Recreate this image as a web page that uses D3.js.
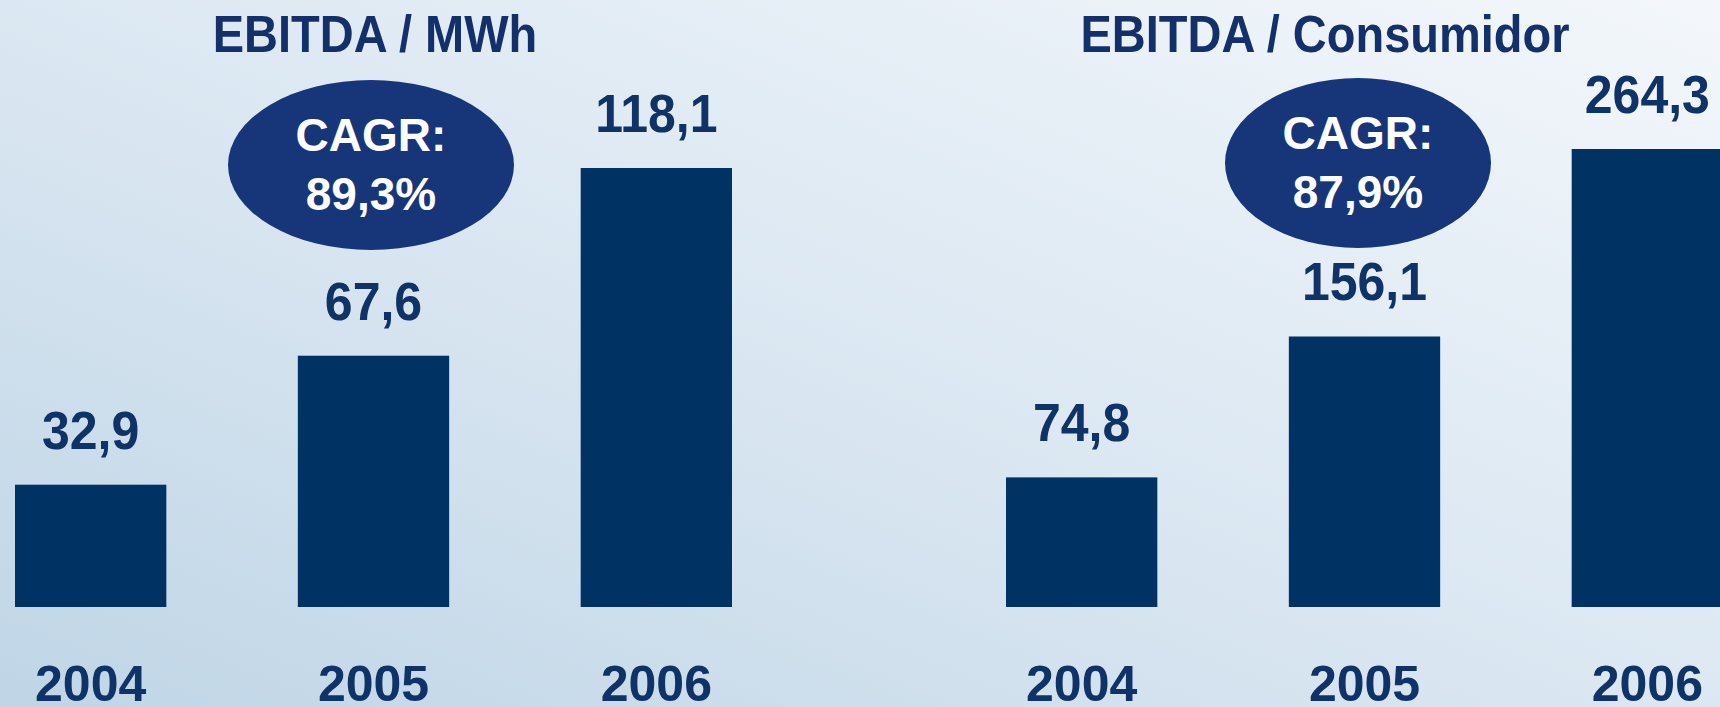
<!DOCTYPE html>
<html>
<head>
<meta charset="utf-8">
<script src="https://cdn.jsdelivr.net/npm/d3@7"></script>
<style>
  html, body { margin: 0; padding: 0; overflow: hidden; }
  svg { display: block; }
  text { font-family: "Liberation Sans", Arial, sans-serif; font-weight: bold; }
</style>
</head>
<body>
<svg id="chart"></svg>
<script>
// data
const years = ["2004", "2005", "2006"];
const ebitdaMwh = [32.9, 67.6, 118.1];
const ebitdaConsumidor = [74.8, 156.1, 264.3];
const titles = ["EBITDA / MWh", "EBITDA / Consumidor"];
const cagrLabels = ["89,3%", "87,9%"];

const width = 1720;
const height = 707;
const barColor = "#003264";
const textColor = "#0f3366";
const ellipseColor = "#173679";

const svg = d3.select("#chart").attr("width", width).attr("height", height);

const defs = svg.append("defs");
const grad = defs.append("linearGradient")
    .attr("id", "bg")
    .attr("x1", "0").attr("y1", "1")
    .attr("x2", "1").attr("y2", "0");
grad.append("stop").attr("offset", "0%").attr("stop-color", "#bfd5e6");
grad.append("stop").attr("offset", "45%").attr("stop-color", "#d9e6f1");
grad.append("stop").attr("offset", "100%").attr("stop-color", "#f3f7fb");

svg.append("rect").attr("width", width).attr("height", height).attr("fill", "url(#bg)");

const fmt = v => d3.format(".1f")(v).replace(".", ",");

// text stretched a bit vertically, like the slide
function tall(sel, x, y, k) {
    return sel.attr("transform", "translate(" + x + "," + y + ") scale(1," + k + ")");
}

const panels = [
    { values: ebitdaMwh, xRange: [15, 732], yTop: 168, title: titles[0], titleX: 375, cagr: cagrLabels[0], ell: { cx: 371, cy: 165, rx: 143, ry: 85 } },
    { values: ebitdaConsumidor, xRange: [1006, 1723], yTop: 149, title: titles[1], titleX: 1325, cagr: cagrLabels[1], ell: { cx: 1358, cy: 163, rx: 133, ry: 85 } }
];

const baseY = 607;

panels.forEach(function (p) {
    const x = d3.scaleBand().domain(years).range(p.xRange).paddingInner(0.465).paddingOuter(0);
    const y = d3.scaleLinear().domain([0, d3.max(p.values)]).range([baseY, p.yTop]);
    const data = years.map((yr, i) => ({ year: yr, value: p.values[i] }));

    const g = svg.append("g");

    g.append("text")
        .call(tall, p.titleX, 52, 1.1)
        .attr("text-anchor", "middle")
        .attr("font-size", 47)
        .attr("fill", "#13306a")
        .text(p.title);

    g.selectAll("rect.bar")
        .data(data)
        .enter()
        .append("rect")
        .attr("class", "bar")
        .attr("x", d => x(d.year))
        .attr("y", d => y(d.value))
        .attr("width", x.bandwidth())
        .attr("height", d => baseY - y(d.value))
        .attr("fill", barColor);

    g.selectAll("text.val")
        .data(data)
        .enter()
        .append("text")
        .attr("class", "val")
        .each(function (d) {
            d3.select(this).call(tall, x(d.year) + x.bandwidth() / 2, y(d.value) - 36, 1.06);
        })
        .attr("text-anchor", "middle")
        .attr("font-size", 50)
        .attr("fill", textColor)
        .text(d => fmt(d.value));

    g.selectAll("text.year")
        .data(data)
        .enter()
        .append("text")
        .attr("class", "year")
        .attr("x", d => x(d.year) + x.bandwidth() / 2)
        .attr("y", 701)
        .attr("text-anchor", "middle")
        .attr("font-size", 50)
        .attr("fill", textColor)
        .text(d => d.year);

    // CAGR bubble
    g.append("ellipse")
        .attr("cx", p.ell.cx).attr("cy", p.ell.cy)
        .attr("rx", p.ell.rx).attr("ry", p.ell.ry)
        .attr("fill", ellipseColor);

    g.append("text")
        .attr("x", p.ell.cx)
        .attr("y", p.ell.cy - 14)
        .attr("text-anchor", "middle")
        .attr("font-size", 46)
        .attr("fill", "#fff")
        .text("CAGR:");

    g.append("text")
        .attr("x", p.ell.cx)
        .attr("y", p.ell.cy + 45)
        .attr("text-anchor", "middle")
        .attr("font-size", 46)
        .attr("fill", "#fff")
        .text(p.cagr);
});
</script>
</body>
</html>
